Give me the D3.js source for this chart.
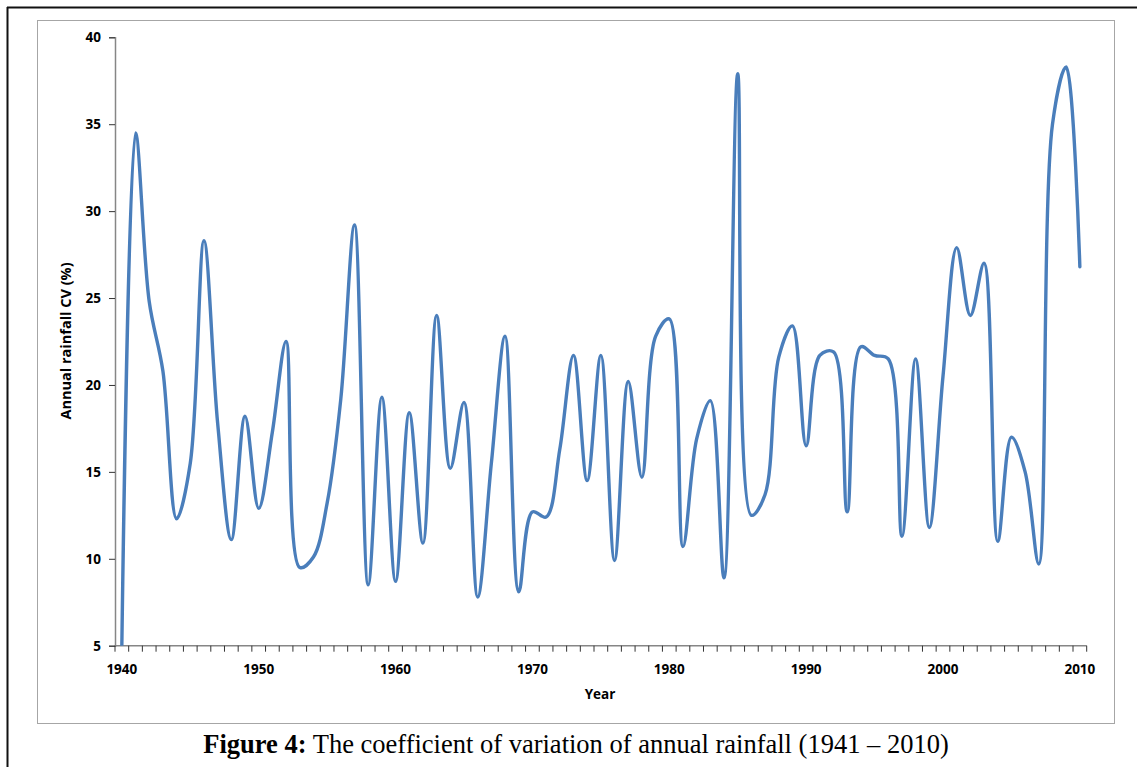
<!DOCTYPE html>
<html>
<head>
<meta charset="utf-8">
<script src="https://cdn.jsdelivr.net/npm/d3@7"></script>
<style>
  html, body { margin: 0; padding: 0; background: #ffffff; }
  svg { display: block; }
</style>
</head>
<body>
<svg id="chart" width="1137" height="767"></svg>
<script>
const years = d3.range(1940, 2011);
const cvValues = [
  5.0, 34.5, 24.8, 20.8, 12.3, 15.5, 28.3, 17.8, 11.1, 18.2,
  12.9, 17.3, 22.5, 9.5, 10.1, 13.2, 19.2, 29.2, 8.5, 19.3,
  8.7, 18.4, 10.9, 24.0, 15.2, 19.0, 7.8, 15.5, 22.8, 8.1,
  12.7, 12.4, 16.3, 21.7, 14.5, 21.7, 9.9, 20.2, 14.7, 22.8,
  23.8, 10.7, 16.9, 19.1, 8.9, 37.9, 12.5, 13.7, 21.6, 23.4,
  16.5, 21.7, 21.9, 12.7, 22.2, 21.7, 21.5, 11.3, 21.5, 11.8,
  20.5, 27.9, 24.0, 27.0, 11.0, 17.0, 15.0, 9.7, 35.0, 38.3,
  26.8
];
const yTicks = [5, 10, 15, 20, 25, 30, 35, 40];
const xLabelYears = [1940, 1950, 1960, 1970, 1980, 1990, 2000, 2010];
const yTitle = "Annual rainfall CV  (%)";
const xTitle = "Year";
const captionBold = "Figure 4:";
const captionText = " The coefficient of variation of annual rainfall (1941 \u2013 2010)";

const data = years.map((y, i) => ({ year: y, v: cvValues[i] }));

const svg = d3.select("#chart");

// outer black frame (left and top visible)
svg.append("line").attr("x1", 7.5).attr("y1", 7).attr("x2", 7.5).attr("y2", 767)
  .attr("stroke", "#111").attr("stroke-width", 2);
svg.append("line").attr("x1", 7).attr("y1", 7.5).attr("x2", 1137).attr("y2", 7.5)
  .attr("stroke", "#111").attr("stroke-width", 2);

// inner chart-area frame
svg.append("rect").attr("x", 37.5).attr("y", 20.5).attr("width", 1077).attr("height", 703)
  .attr("fill", "#fff").attr("stroke", "#a6a6a6").attr("stroke-width", 1);

const plot = { left: 115, right: 1086.7, top: 37.3, bottom: 645.7 };

const x = d3.scaleBand().domain(years).range([plot.left, plot.right]).paddingInner(0).paddingOuter(0);
const y = d3.scaleLinear().domain([5, 40]).range([plot.bottom, plot.top]);

// clip
svg.append("defs").append("clipPath").attr("id", "clip")
  .append("rect").attr("x", plot.left).attr("y", plot.top - 5)
  .attr("width", plot.right - plot.left + 2).attr("height", plot.bottom - plot.top + 5);

// y axis
const yAxis = d3.axisLeft(y).tickValues(yTicks).tickSize(6).tickPadding(8).tickFormat(d3.format("d"));
const gy = svg.append("g").attr("transform", `translate(${plot.left},0)`).call(yAxis);
gy.select(".domain").attr("stroke", "#868686").attr("stroke-width", 1.5);
gy.selectAll(".tick line").attr("stroke", "#333");
gy.selectAll(".tick text").attr("font-family", "'Open Sans', sans-serif")
  .attr("font-weight", "bold").attr("font-size", 13.5).attr("fill", "#000");

// x axis: tick marks between categories
const boundaries = d3.range(0, years.length + 1).map(i => plot.left + i * x.bandwidth());
const gx = svg.append("g").attr("transform", `translate(0,${plot.bottom})`);
gx.append("line").attr("x1", plot.left).attr("x2", plot.right).attr("y1", 0).attr("y2", 0)
  .attr("stroke", "#868686").attr("stroke-width", 1.5);
gx.selectAll("line.tk").data(boundaries).join("line").attr("class", "tk")
  .attr("x1", d => d).attr("x2", d => d).attr("y1", 0).attr("y2", 6)
  .attr("stroke", "#333").attr("stroke-width", 1);
const xAxis = d3.axisBottom(x).tickValues(xLabelYears).tickSize(0).tickPadding(19);
const gxl = svg.append("g").attr("transform", `translate(0,${plot.bottom})`).call(xAxis);
gxl.select(".domain").remove();
gxl.selectAll(".tick text").attr("font-family", "'Open Sans', sans-serif")
  .attr("font-weight", "bold").attr("font-size", 13.5).attr("fill", "#000");

// line
const line = d3.line()
  .x(d => x(d.year) + x.bandwidth() / 2)
  .y(d => y(d.v))
  .curve(d3.curveCatmullRom.alpha(0.5));
svg.append("path").datum(data).attr("clip-path", "url(#clip)")
  .attr("d", line).attr("fill", "none").attr("stroke", "#4a7ebb")
  .attr("stroke-width", 3.4).attr("stroke-linejoin", "round").attr("stroke-linecap", "round");

// axis titles
svg.append("text").attr("transform", "translate(71,341) rotate(-90)")
  .attr("text-anchor", "middle").attr("font-family", "'Open Sans', sans-serif")
  .attr("font-weight", "bold").attr("font-size", 14.5).attr("fill", "#000").text(yTitle);
svg.append("text").attr("x", 600).attr("y", 699).attr("text-anchor", "middle")
  .attr("font-family", "'Open Sans', sans-serif").attr("font-weight", "bold")
  .attr("font-size", 13.5).attr("fill", "#000").text(xTitle);

// caption
const cap = svg.append("text").attr("x", 576).attr("y", 753).attr("text-anchor", "middle")
  .attr("font-family", "'Liberation Serif', 'Times New Roman', serif").attr("font-size", 26.5).attr("fill", "#000");
cap.append("tspan").attr("font-weight", "bold").text(captionBold);
cap.append("tspan").text(captionText);
</script>
</body>
</html>
